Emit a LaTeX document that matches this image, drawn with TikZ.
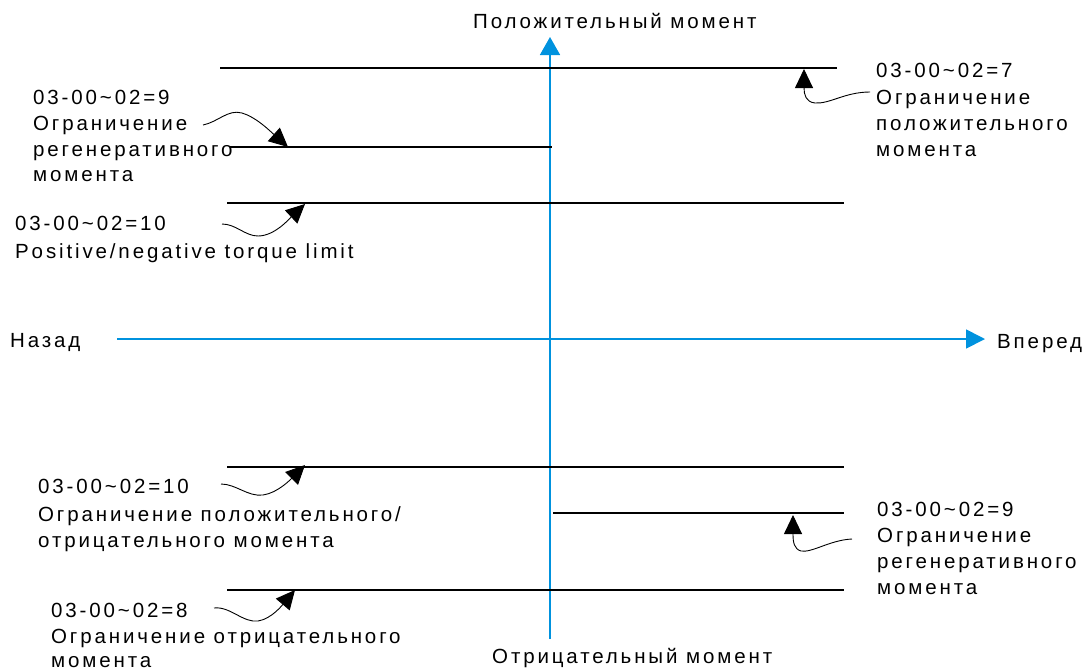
\documentclass[tikz,border=0pt]{standalone}
\usepackage{fontspec}
\setmainfont{Liberation Sans}[LetterSpace=14]
\usetikzlibrary{arrows.meta}
\definecolor{axisblue}{RGB}{0,146,222}
\begin{document}
\begin{tikzpicture}[x=1pt,y=-1pt,
  lbl/.style={anchor=base west, inner sep=0pt, font=\fontsize{20.5}{26}\selectfont},
  axisline/.style={axisblue, line width=1.7pt},
  limline/.style={black, line width=2pt},
  conn/.style={black, line width=0.9pt, -{Triangle[length=19pt,width=18pt]}}]
\useasboundingbox (0,0) rectangle (1086,670);

% axes
\coordinate (hx0) at (117,339);
\coordinate (hx1) at (985,339);
\coordinate (vy0) at (550,639);
\coordinate (vy1) at (550,37);
\draw[axisline, -{Triangle[length=19pt,width=19pt]}] (hx0) -- (hx1);
\draw[axisline, -{Triangle[length=18pt,width=20pt]}] (vy0) -- (vy1);

% axis labels
\node[lbl] (pos) at (473,28) {Положительный момент};
\node[lbl] (neg) at (492,663) {Отрицательный момент};
\node[lbl] (back) at (10,347) {Назад};
\node[lbl] (fwd) at (997,348) {Вперед};

% limit lines
\coordinate (l1a) at (220,67.5);  \coordinate (l1b) at (837,67.5);
\coordinate (l2a) at (230,146.5); \coordinate (l2b) at (552,146.5);
\coordinate (l3a) at (227,202.5); \coordinate (l3b) at (844,202.5);
\coordinate (l4a) at (227,466.5); \coordinate (l4b) at (844,466.5);
\coordinate (l5a) at (553,513);   \coordinate (l5b) at (844,513);
\coordinate (l6a) at (227,590);   \coordinate (l6b) at (844,590);
\foreach \n in {1,...,6} {\draw[limline] (l\n a) -- (l\n b);}

% top right block (7)
\node[lbl] (t7a) at (876,77) {03-00\char126 02=7};
\node[lbl] (t7b) at (876,104) {Ограничение};
\node[lbl] (t7c) at (876,130) {положительного};
\node[lbl] (t7d) at (876,156) {момента};
\coordinate (s7) at (870,92);
\coordinate (e7) at (804,69);
\draw[conn] (s7) .. controls (845,92) and (830,104) .. (815,103) .. controls (806,102) and (804,95) .. (e7);

% top left block (9)
\node[lbl] (t9a) at (33,104) {03-00\char126 02=9};
\node[lbl] (t9b) at (33,130) {Ограничение};
\node[lbl] (t9c) at (33,156) {регенеративного};
\node[lbl] (t9d) at (33,181) {момента};
\coordinate (s9) at (203,125);
\coordinate (e9) at (288,147);
\draw[conn] (s9) .. controls (218,122) and (228,109) .. (242,113) .. controls (256,117) and (270,131) .. (e9);

% positive/negative (10, upper)
\node[lbl] (t10a) at (15,230) {03-00\char126 02=10};
\node[lbl] (t10b) at (15,258) {Positive/negative torque limit};
\coordinate (s10) at (222,224);
\coordinate (e10) at (305,204);
\draw[conn] (s10) .. controls (236,224) and (245,236) .. (258,236) .. controls (275,236) and (290,218) .. (e10);

% lower left block (10)
\node[lbl] (u10a) at (38,493) {03-00\char126 02=10};
\node[lbl] (u10b) at (38,521) {Ограничение положительного/};
\node[lbl] (u10c) at (38,547) {отрицательного момента};
\coordinate (su10) at (221,484);
\coordinate (eu10) at (305,465);
\draw[conn] (su10) .. controls (236,484) and (248,497) .. (263,495) .. controls (278,493) and (292,478) .. (eu10);

% lower left block (8)
\node[lbl] (t8a) at (51,617) {03-00\char126 02=8};
\node[lbl] (t8b) at (51,643) {Ограничение отрицательного};
\node[lbl] (t8c) at (51,667) {момента};
\coordinate (s8) at (214,608);
\coordinate (e8) at (295,590);
\draw[conn] (s8) .. controls (230,606) and (243,623) .. (258,621) .. controls (272,619) and (284,603) .. (e8);

% lower right block (9)
\node[lbl] (r9a) at (877,516) {03-00\char126 02=9};
\node[lbl] (r9b) at (877,542) {Ограничение};
\node[lbl] (r9c) at (877,568) {регенеративного};
\node[lbl] (r9d) at (877,594) {момента};
\coordinate (sr9) at (852,539);
\coordinate (er9) at (793,515);
\draw[conn] (sr9) .. controls (830,540) and (812,553) .. (801,551) .. controls (794,549) and (793,542) .. (er9);
\end{tikzpicture}
\end{document}
